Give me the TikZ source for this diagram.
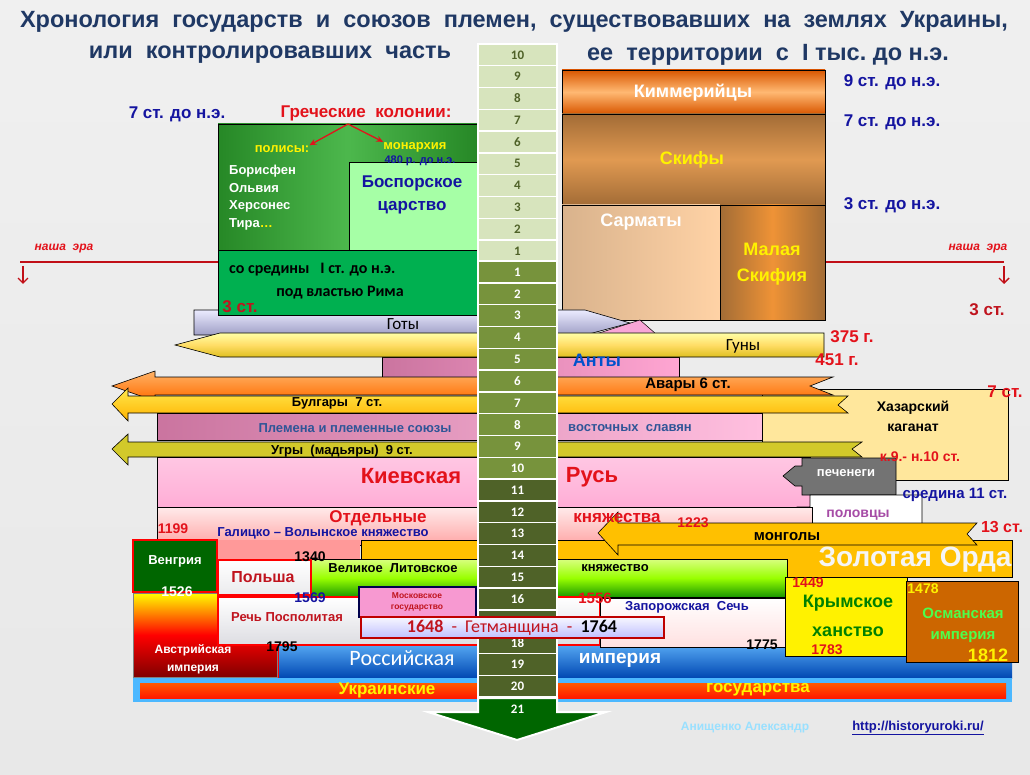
\documentclass[tikz,border=0pt]{standalone}
\usepackage{fontspec}
\setmainfont{Liberation Sans}
\newfontfamily\calibri{Carlito}
\usetikzlibrary{arrows.meta}
\newcommand\fsz[1]{\fontsize{#1}{#1}\selectfont}
\definecolor{titleblue}{HTML}{1F3864}
\definecolor{dateblue}{HTML}{1414A0}
\definecolor{redlab}{HTML}{E3121B}
\definecolor{darkred}{HTML}{C0141E}
\definecolor{cellbc}{HTML}{D7E4BD}
\definecolor{celltxt}{HTML}{4F6228}
\definecolor{cellad}{HTML}{77933C}
\definecolor{celldark}{HTML}{4F6228}
\definecolor{goldbar}{HTML}{FFC000}
\definecolor{plemblue}{HTML}{2F5597}
\definecolor{romegreen}{HTML}{00B050}
\definecolor{hazyellow}{HTML}{FFE79C}
\tikzset{
  lab/.style={inner sep=0pt, font=\bfseries\fsz{#1}},
  lab/.default=14,
  cal/.style={inner sep=0pt, font=\calibri\bfseries\fsz{#1}},
  cal/.default=16,
  datelab/.style={lab=17, text=dateblue},
  redyear/.style={lab=#1, text=redlab},
  redyear/.default=14,
  bar/.style={draw=black, line width=0.6pt},
  bccell/.style={draw=white, line width=1.3pt, fill=cellbc, minimum width=79pt,
    minimum height=21.8pt, inner sep=0pt, text=celltxt, font=\calibri\bfseries\fsz{13}},
  adcell/.style={bccell, fill=cellad, text=white},
  eraline/.style={draw=redlab!85!black, line width=1.4pt},
  eraarrow/.style={draw=redlab!85!black, line width=1.4pt, -{Straight Barb[length=5pt,width=10pt]}},
  greekarrow/.style={draw=redlab, line width=1.3pt, -{Stealth[length=7pt,width=6pt]}}
}
\begin{document}
\begin{tikzpicture}[x=1pt,y=-1pt]
\useasboundingbox (0,0) rectangle (1030,775);
\fill[top color=gray!12, bottom color=gray!18] (0,0) rectangle (1030,775);

\node[lab=23.5, text=titleblue] (title1) at (514,22) {Хронология~~государств~~и~~союзов~~племен,~~существовавших~~на~~землях~~Украины,};
\node[lab=23.5, text=titleblue] (title2a) at (270,55) {или~~контролировавших~~часть};
\node[lab=23.5, text=titleblue] (title2b) at (768,55) {ее~~территории~~с~~I~тыс.~до~н.э.};

\coordinate (eraL) at (20,262);
\coordinate (eraLend) at (218,262);
\coordinate (eraR) at (826,262);
\coordinate (eraRend) at (1004,262);
\draw[eraline] (eraL) -- (eraLend);
\draw[eraline] (eraR) -- (eraRend);
\coordinate (dnL) at (23,266);
\coordinate (dnLend) at (23,284);
\coordinate (dnR) at (1004,266);
\coordinate (dnRend) at (1004,284);
\draw[eraarrow] (dnL) -- (dnLend);
\draw[eraarrow] (dnR) -- (dnRend);
\node[inner sep=0pt, font=\bfseries\itshape\fsz{12}, text=redlab] (eraLtxt) at (64,249) {наша~~эра};
\node[inner sep=0pt, font=\bfseries\itshape\fsz{12}, text=redlab] (eraRtxt) at (978,249) {наша~~эра};

\shade[bar, top color=orange!80!red!85!black, bottom color=orange!80!red!85!black, middle color=orange!55!white] (562,70) rectangle (825,114);
\shade[bar, top color=brown!85!black, bottom color=brown!85!black, middle color=brown!60!orange!80!white] (562,114) rectangle (825,205);
\shade[bar, left color=brown!60!white, right color=orange!35!white] (562,205) rectangle (720,320);
\shade[bar, left color=brown!85!black, right color=brown!85!black, middle color=orange!70!brown!85!white] (720,205) rectangle (825,320);

\fill[magenta!35!white, draw=black, line width=0.5pt] (596,334) -- (640,320) -- (656,334) -- cycle;
\shade[bar, left color=red!50!magenta!45!gray!75!white, right color=red!50!magenta!35!white] (382,357) rectangle (679,377);
\shade[bar, top color=blue!8!white, bottom color=blue!25!gray!60!white] (194,310) -- (585,310) -- (630,323) -- (585,335) -- (194,335) -- cycle;
\shade[bar, top color=yellow!35!white, bottom color=yellow!50!brown, middle color=yellow!55!orange!60!white] (175,345) -- (220,333) -- (824,333) -- (824,357) -- (220,357) -- cycle;

\shade[bar, left color=green!45!black!85!white, right color=green!45!black!85!white, middle color=green!60!black!70!white] (218,124) rectangle (477,250);
\fill[bar, fill=green!35!white] (349,162) rectangle (477,250);
\fill[bar, fill=romegreen] (218,250) rectangle (477,315);

\fill[bar, fill=hazyellow] (762,389) rectangle (1008,480);
\shade[bar, top color=orange!60!white, bottom color=orange!85!red] (112,386) -- (155,371) -- (155,377) -- (833,377) -- (810,386) -- (833,395) -- (155,395) -- (155,401) -- cycle;
\shade[bar, top color=yellow!75!orange!70!white, bottom color=orange!60!yellow] (112,404) -- (128,388) -- (128,396) -- (848,396) -- (838,405) -- (848,413) -- (128,413) -- (128,421) -- cycle;
\shade[bar, left color=red!50!magenta!45!gray!75!white, right color=red!50!magenta!25!white] (157,413) rectangle (762,440);
\fill[bar, fill=yellow!80!black] (112,449) -- (128,434) -- (128,442) -- (862,442) -- (852,449) -- (862,457) -- (128,457) -- (128,465) -- cycle;
\shade[bar, top color=red!50!magenta!22!white, bottom color=red!50!magenta!32!white] (157,457) rectangle (810,507);
\fill[bar, fill=gray!90!black] (896,458) -- (802,458) -- (802,466) -- (795,466) -- (783,476) -- (795,486) -- (802,486) -- (802,495) -- (896,495) -- cycle;
\fill[bar, fill=white] (922,495) -- (810,495) -- (810,507) -- (797,507) -- (782,517) -- (797,527) -- (810,527) -- (810,535) -- (922,535) -- cycle;

\shade[bar, top color=red!8!white, bottom color=red!35!white] (157,507) rectangle (812,545);
\fill[red!40!white] (217,540) rectangle (360,560);
\fill[bar, fill=goldbar] (361,540) rectangle (1012,577);
\fill[bar, fill=goldbar] (598,533) -- (618,512) -- (618,523) -- (977,523) -- (967,534) -- (977,545) -- (618,545) -- (618,555) -- cycle;
\shade[bar, top color=yellow!70!green!50!white, bottom color=green!55!black!90!yellow, middle color=yellow!60!green] (310,559) rectangle (787,597);

\shade[top color=blue!45!cyan!60!white, bottom color=blue!60!cyan!70!black] (278,638) rectangle (1012,678);
\draw[red, line width=1.5pt] (278,638) -- (278,678);
\fill[blue!40!cyan!70!white] (133,678) rectangle (1012,702);
\shade[top color=orange!70!red, bottom color=red!80!orange] (140,683) rectangle (1006,698);

\fill[green!40!black, draw=red, line width=2pt] (133,540) rectangle (217,592);
\shade[draw=gray, line width=1pt, top color=yellow, bottom color=red!50!black, middle color=red] (133,593) -- (217,593) -- (217,645) -- (277,645) -- (277,677) -- (133,677) -- cycle;
\shade[draw=red, line width=2.5pt, top color=white, bottom color=blue!8!gray!25!white] (218,597) rectangle (600,645);
\shade[draw=red, line width=2.5pt, top color=white, bottom color=blue!5!gray!15!white] (218,560) rectangle (311,595);
\shade[bar, top color=white, bottom color=red!12!white] (600,598) rectangle (785,647);
\fill[bar, fill=yellow] (785,577) rectangle (907,656);
\fill[bar, fill=orange!80!black] (906,581) rectangle (1018,662);

\foreach \n in {1,...,10}
  \node[bccell] (bc\n) at (517.5,{251-(\n-1)*21.8}) {\n};
\foreach \n in {1,...,10}
  \node[adcell] (ad\n) at (517.5,{272+(\n-1)*21.8}) {\n};
\foreach \n in {11,...,20}
  \node[adcell, fill=celldark] (ad\n) at (517.5,{272+(\n-1)*21.8}) {\n};
\fill[green!40!black, draw=white, line width=2pt] (478,698) -- (557,698) -- (557,712) -- (606,712) -- (517,740) -- (428,712) -- (478,712) -- cycle;
\node[cal=13, text=white] (ad21) at (517.5,709) {21};

\fill[magenta!40!white, draw=blue!30!black, line width=2pt] (359,587) rectangle (476,617);
\shade[draw=red!75!black, line width=2pt, top color=blue!3!white, bottom color=blue!25!white] (361,617) rectangle (664,638);

\node[datelab] (bcseven) at (177,114) {7 ст. до н.э.};
\node[lab=17, text=redlab] (greek) at (366,113) {Греческие~~колонии:};
\node[lab=13, text=yellow] (polis) at (282,149) {полисы:};
\node[lab=13, text=yellow] (monarch) at (415,147) {монархия};
\coordinate (gk) at (348,124);
\draw[greekarrow] (gk) -- (polis.north east);
\draw[greekarrow] (gk) -- (monarch.north west);
\node[lab=11, text=dateblue] (dfour) at (420,161) {480 р. до н.э.};
\node[lab=13, text=white, anchor=west] (boris) at (229,171) {Борисфен};
\node[lab=13, text=white, anchor=west] (olvia) at (229,188) {Ольвия};
\node[lab=13, text=white, anchor=west] (herson) at (229,206) {Херсонес};
\node[lab=13, text=white, anchor=west] (tira) at (229,224) {Тира\textcolor{yellow}{…}};
\node[lab=17, text=dateblue] (bospA) at (412,183) {Боспорское};
\node[lab=17, text=dateblue] (bospB) at (412,208) {царство};
\node[cal=16, anchor=west] (romeA) at (229,270) {со средины~~~I ст. до н.э.};
\node[cal=16] (romeB) at (340,293) {под властью Рима};
\node[lab=17, text=darkred] (lthree) at (240,307) {3 ст.};

\node[lab=18, text=white] (kimm) at (693,93) {Киммерийцы};
\node[lab=18, text=yellow] (skif) at (692,160) {Скифы};
\node[lab=18, text=white] (sarm) at (641,222) {Сарматы};
\node[lab=18, text=yellow] (malA) at (772,249) {Малая};
\node[lab=18, text=yellow] (malB) at (772,277) {Скифия};
\node[datelab] (rnine) at (892,82) {9 ст. до н.э.};
\node[datelab] (rseven) at (892,122) {7 ст. до н.э.};
\node[datelab] (rthree) at (892,205) {3 ст. до н.э.};
\node[lab=17, text=darkred] (rthreeAD) at (987,310) {3 ст.};

\node[inner sep=0pt, font=\calibri\fsz{17}] (goty) at (403,324) {Готы};
\node[inner sep=0pt, font=\calibri\fsz{17}] (guny) at (743,346) {Гуны};
\node[redyear=17] (hunA) at (852,337) {375 г.};
\node[redyear=17] (hunB) at (837,360) {451 г.};
\node[lab=18, text=blue!60!cyan!80!black] (anty) at (597,360) {Анты};
\node[lab=15] (avary) at (688,385) {Авары 6 ст.};
\node[lab=13] (bulg) at (337,403) {Булгары~~7 ст.};
\node[lab=14] (hazA) at (913,408) {Хазарский};
\node[lab=14] (hazB) at (913,428) {каганат};
\node[redyear=14] (hazdate) at (920,457) {к.9.- н.10 ст.};
\node[redyear=17] (hazseven) at (1005,392) {7 ст.};
\node[lab=13, text=plemblue] (plemA) at (355,428) {Племена и племенные союзы};
\node[lab=13, text=plemblue] (plemB) at (630,428) {восточных~~славян};
\node[lab=13] (ugry) at (342,451) {Угры~~(мадьяры)~~9 ст.};
\node[lab=22, text=redlab] (kievA) at (411,476) {Киевская};
\node[lab=22, text=redlab] (kievB) at (592,477) {Русь};
\node[lab=13, text=white] (pech) at (846,473) {печенеги};
\node[lab=14, text=violet!70!white] (polov) at (858,515) {половцы};
\node[lab=15, text=dateblue] (sered) at (955,495) {средина 11 ст.};

\node[lab=17, text=redlab] (otdA) at (378,518) {Отдельные};
\node[lab=17, text=redlab] (otdB) at (617,518) {княжества};
\node[redyear=14] (yA) at (173,529) {1199};
\node[lab=13, text=dateblue] (galic) at (323,533) {Галицко – Волынское княжество};
\node[redyear=14] (yB) at (693,523) {1223};
\node[lab=15] (mong) at (787,537) {монголы};
\node[redyear=16] (rthirteen) at (1002,527) {13 ст.};
\node[lab=28, text=gray!8] (zolot) at (915,560) {Золотая Орда};

\node[lab=13, text=white] (vengr) at (175,561) {Венгрия};
\node[lab=14, text=white] (yC) at (177,592) {1526};
\node[lab=14] (yD) at (310,557) {1340};
\node[lab=13] (litA) at (393,568) {Великое~~Литовское};
\node[lab=13] (litB) at (615,568) {княжество};
\node[lab=16, text=darkred] (polsha) at (263,577) {Польша};
\node[lab=14, text=dateblue] (yE) at (310,598) {1569};
\node[lab=13, text=darkred] (rech) at (287,617) {Речь Посполитая};
\node[lab=8.5, text=darkred] (moskA) at (417,596) {Московское};
\node[lab=8.5, text=darkred] (moskB) at (417,608) {государство};
\node[inner sep=0pt, font=\calibri\fsz{18}, text=darkred] (hetman) at (512,628) {\textbf{1648}~~-~~Гетманщина~~-~~\textcolor{black}{\textbf{1764}}};
\node[redyear=15] (yF) at (595,598) {1556};
\node[lab=13, text=dateblue] (zapor) at (687,607) {Запорожская~~Сечь};
\node[lab=14] (yG) at (762,645) {1775};
\node[lab=14] (yH) at (282,647) {1795};
\node[redyear=14] (yI) at (808,583) {1449};
\node[lab=18, text=green!50!black] (krymA) at (848,603) {Крымское};
\node[lab=18, text=green!50!black] (krymB) at (848,632) {ханство};
\node[redyear=14] (yJ) at (827,650) {1783};
\node[lab=14, text=yellow] (yK) at (923,589) {1478};
\node[lab=15, text=green!70!white] (osmA) at (963,613) {Османская};
\node[lab=15, text=green!70!white] (osmB) at (963,637) {империя};
\node[lab=18, text=yellow] (yL) at (988,655) {1812};
\node[lab=12, text=white] (avstA) at (193,650) {Австрийская};
\node[lab=12, text=white] (avstB) at (193,670) {империя};
\node[inner sep=0pt, font=\calibri\fsz{22}, text=white] (rossA) at (402,658) {Российская};
\node[lab=19, text=white] (rossB) at (620,660) {империя};
\node[lab=17, text=yellow] (ukrA) at (387,690) {Украинские};
\node[lab=17, text=yellow] (ukrB) at (758,690) {государства};

\node[lab=12, text=blue!30!cyan!40!white] (author) at (745,728) {Анищенко Александр};
\node[lab=13, text=dateblue] (site) at (918,728) {\underline{http://historyuroki.ru/}};
\end{tikzpicture}
\end{document}
